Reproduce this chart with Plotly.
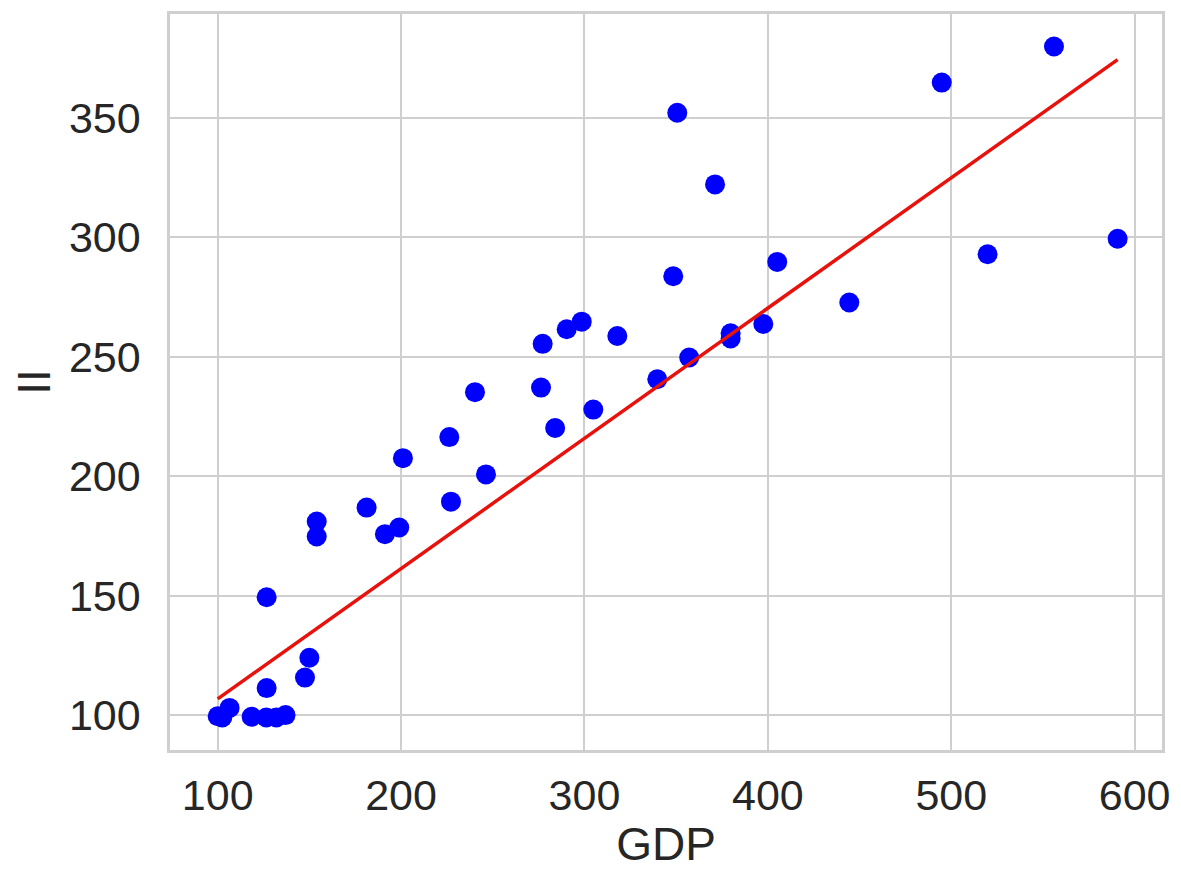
import plotly.graph_objects as go

# Data
gdp = [100, 102.5, 106.5, 118.5, 126.5, 132, 137, 126.7, 147.6, 150,
       126.7, 154, 154, 181.2, 191.2, 199, 201, 226.3, 227.2, 240.3,
       246.3, 276.3, 277.2, 284, 290.3, 298.5, 304.8, 317.9, 339.7, 348.4,
       350.6, 357.1, 371.2, 379.7, 379.7, 397.5, 405.1, 444.4, 494.8, 519.8,
       556, 590.7]
ii = [99.5, 99, 103, 99.3, 99, 99, 100, 111.3, 115.7, 124,
      149.3, 174.7, 181, 186.8, 175.7, 178.5, 207.5, 216.3, 189.3, 235.1,
      200.7, 237, 255.3, 220.1, 261.4, 264.6, 227.8, 258.6, 240.5, 283.6,
      352, 249.6, 322, 259.7, 257.6, 263.6, 289.6, 272.6, 364.6, 292.8,
      379.7, 299.3]

# Regression line end values
fit_x = [100, 590.7]
fit_y = [106.8, 374.2]

x_ticks = [100, 200, 300, 400, 500, 600]
y_ticks = [100, 150, 200, 250, 300, 350]

font_family = "Liberation Sans, Arial, sans-serif"
text_color = "#262626"
grid_color = "#cfcfcf"

fig = go.Figure()
fig.add_trace(go.Scatter(
    x=gdp, y=ii, mode="markers",
    marker=dict(color="blue", size=20, line=dict(width=0)),
    showlegend=False,
))
fig.add_trace(go.Scatter(
    x=fit_x, y=fit_y, mode="lines",
    line=dict(color="#e8120c", width=3.5),
    showlegend=False,
))

axis_common = dict(
    showgrid=True, gridcolor=grid_color, gridwidth=2,
    showline=True, linecolor=grid_color, linewidth=2.5, mirror=True,
    zeroline=False,
    ticks="outside", tickcolor="rgba(0,0,0,0)",
    tickfont=dict(family=font_family, size=43, color=text_color),
)

# page body adds an 8px offset, so the figure is sized to fit the window
fig.update_layout(
    width=1173, height=862,
    margin=dict(l=162, r=19, t=3, b=120),
    paper_bgcolor="white", plot_bgcolor="white",
    font=dict(family=font_family, color=text_color),
    xaxis=dict(
        range=[74.0, 614.9], tickvals=x_ticks, ticklen=6,
        title=dict(text="GDP", font=dict(family=font_family, size=46, color=text_color), standoff=10),
        **axis_common,
    ),
    yaxis=dict(
        range=[85.4, 393.3], tickvals=y_ticks, ticklen=18,
        title=dict(text="II", font=dict(family=font_family, size=46, color=text_color), standoff=10),
        **axis_common,
    ),
)

fig.write_html("out.html")
